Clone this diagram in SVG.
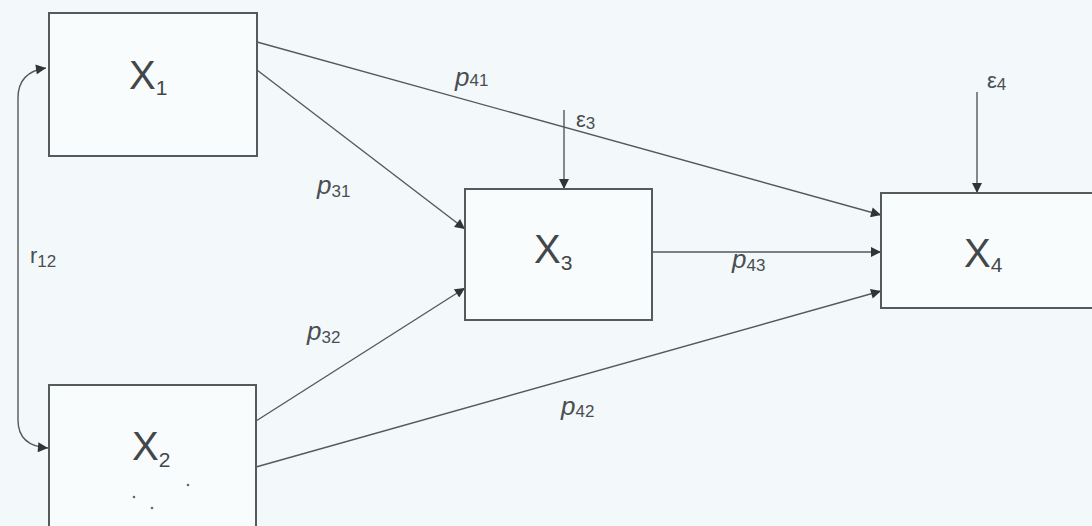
<svg xmlns="http://www.w3.org/2000/svg" width="1092" height="526" viewBox="0 0 1092 526">
<style>
.box{fill:#f9fcfd;stroke:#555a5c;stroke-width:2}
.ln{fill:none;stroke:#55595b;stroke-width:1.4}
.nx{font-family:"Liberation Sans",Arial,sans-serif;font-size:40px;fill:#43474a}
.ns{font-family:"Liberation Sans",Arial,sans-serif;font-size:21px;fill:#43474a}
.lp{font-family:"Liberation Sans",Arial,sans-serif;font-size:26px;font-style:italic;fill:#4a4e50}
.ls{font-family:"Liberation Sans",Arial,sans-serif;font-size:17px;fill:#4a4e50}
.le{font-family:"Liberation Sans",Arial,sans-serif;font-size:22px;fill:#4a4e50}
</style>
<defs>
<marker id="ah" viewBox="0 0 10 10" refX="10" refY="5" markerWidth="12" markerHeight="10" markerUnits="userSpaceOnUse" orient="auto-start-reverse">
<path d="M0,0 L10,5 L0,10 z" fill="#303436"/>
</marker>
</defs>
<rect width="1092" height="526" fill="#f3f8fb"/>
<g id="connectors">
<path class="ln" d="M18,255 L18,98 Q18,72 46,68" marker-end="url(#ah)"/>
<path class="ln" d="M18,255 L18,420 Q18,446 48,448" marker-end="url(#ah)"/>
<line class="ln" x1="257" y1="42" x2="881" y2="215" marker-end="url(#ah)"/>
<line class="ln" x1="257" y1="70" x2="465" y2="229" marker-end="url(#ah)"/>
<line class="ln" x1="256" y1="421" x2="465" y2="288" marker-end="url(#ah)"/>
<line class="ln" x1="256" y1="467" x2="881" y2="291" marker-end="url(#ah)"/>
<line class="ln" x1="652" y1="252" x2="881" y2="252" marker-end="url(#ah)"/>
<line class="ln" x1="564" y1="110" x2="564" y2="189" marker-end="url(#ah)"/>
<line class="ln" x1="977" y1="92" x2="977" y2="193" marker-end="url(#ah)"/>
</g>
<g id="X1">
<rect class="box" x="49" y="13" width="208" height="143"/>
<text x="129" y="89"><tspan class="nx">X</tspan><tspan class="ns" dy="6">1</tspan></text>
</g>
<g id="X2">
<rect class="box" x="49" y="385" width="207" height="150"/>
<text x="132" y="460"><tspan class="nx">X</tspan><tspan class="ns" dy="7">2</tspan></text>
<circle cx="134" cy="497" r="1.3" fill="#666"/>
<circle cx="152" cy="508" r="1.3" fill="#666"/>
<circle cx="188" cy="485" r="1.3" fill="#666"/>
</g>
<g id="X3">
<rect class="box" x="465" y="189" width="187" height="131"/>
<text x="534" y="263"><tspan class="nx">X</tspan><tspan class="ns" dy="7">3</tspan></text>
</g>
<g id="X4">
<rect class="box" x="881" y="193" width="214" height="115"/>
<text x="964" y="267"><tspan class="nx">X</tspan><tspan class="ns" dy="5">4</tspan></text>
</g>
<g id="labels">
<text x="455" y="86"><tspan class="lp">p</tspan><tspan class="ls" dy="0">41</tspan></text>
<text x="317" y="194"><tspan class="lp">p</tspan><tspan class="ls" dy="3">31</tspan></text>
<text x="307" y="340"><tspan class="lp">p</tspan><tspan class="ls" dy="3">32</tspan></text>
<text x="561" y="415"><tspan class="lp">p</tspan><tspan class="ls" dy="2">42</tspan></text>
<text x="732" y="268"><tspan class="lp">p</tspan><tspan class="ls" dy="3">43</tspan></text>
<text x="576" y="127"><tspan class="le">ε</tspan><tspan class="ls" dy="2">3</tspan></text>
<text x="987" y="88"><tspan class="le">ε</tspan><tspan class="ls" dy="2">4</tspan></text>
<text x="30" y="263"><tspan class="le">r</tspan><tspan class="ls" dy="4">12</tspan></text>
</g>
</svg>
